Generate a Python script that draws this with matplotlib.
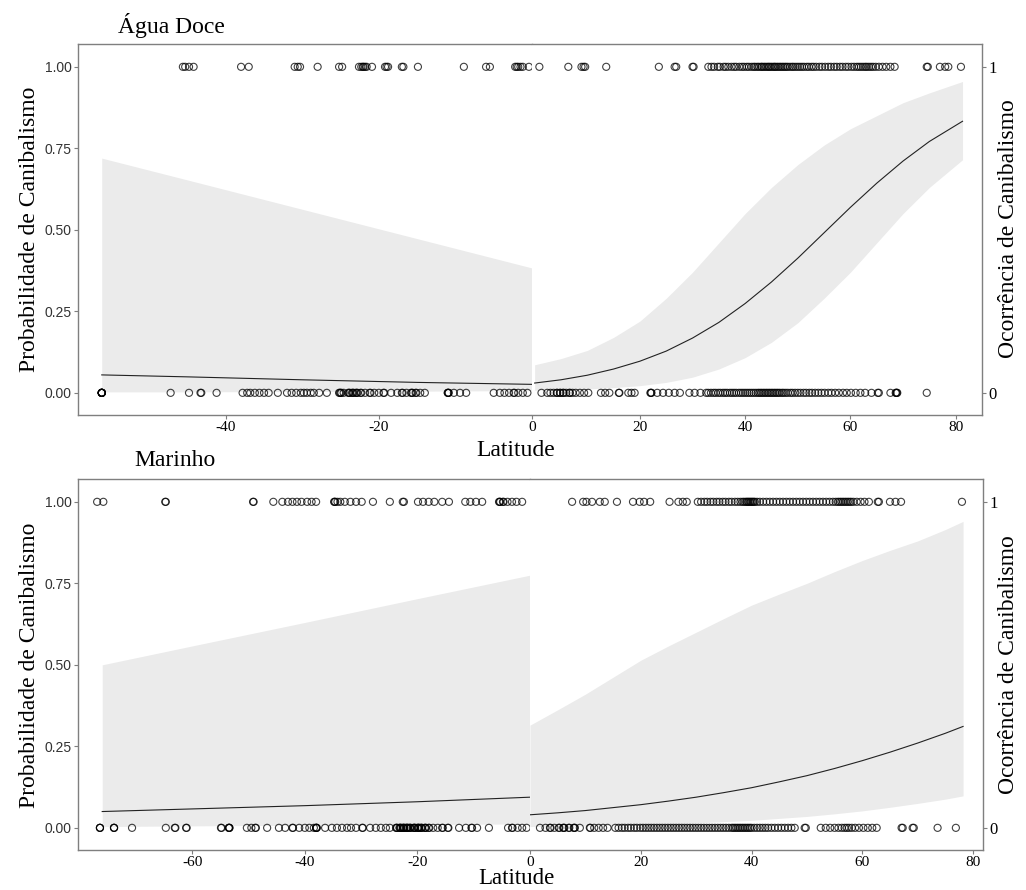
import matplotlib
matplotlib.use("Agg")
import matplotlib.pyplot as plt

# ---------------- data ----------------
# fitted curves (probability) and confidence band, southern / northern fits
fw_s_lat = [-56.2, -45, -30, -15, 0]
fw_s_fit = [0.055, 0.049, 0.040, 0.032, 0.026]
fw_s_lo = [0.003, 0.003, 0.004, 0.005, 0.007]
fw_s_hi = [0.720, 0.653, 0.563, 0.473, 0.383]

fw_n_lat = [0, 5, 10, 15, 20, 25, 30, 35, 40, 45, 50, 55, 60, 65, 70, 75, 81.3]
fw_n_fit = [0.030, 0.040, 0.054, 0.073, 0.097, 0.128, 0.168, 0.216, 0.274,
            0.340, 0.413, 0.491, 0.569, 0.643, 0.711, 0.771, 0.833]
fw_n_lo = [0.008, 0.010, 0.012, 0.016, 0.022, 0.032, 0.048, 0.073, 0.108,
           0.155, 0.215, 0.290, 0.370, 0.460, 0.550, 0.630, 0.715]
fw_n_hi = [0.086, 0.105, 0.130, 0.170, 0.220, 0.290, 0.370, 0.460, 0.550,
           0.630, 0.700, 0.760, 0.810, 0.850, 0.890, 0.920, 0.955]

mar_s_lat = [-76, -60, -40, -20, 0]
mar_s_fit = [0.050, 0.058, 0.068, 0.080, 0.094]
mar_s_lo = [0.004, 0.006, 0.008, 0.010, 0.012]
mar_s_hi = [0.500, 0.558, 0.630, 0.703, 0.775]

mar_n_lat = [0, 5, 10, 15, 20, 25, 30, 35, 40, 45, 50, 55, 60, 65, 70, 75, 78.2]
mar_n_fit = [0.040, 0.046, 0.053, 0.062, 0.071, 0.082, 0.094, 0.108, 0.123,
             0.141, 0.160, 0.182, 0.206, 0.232, 0.260, 0.290, 0.311]
mar_n_lo = [0.004, 0.005, 0.006, 0.008, 0.010, 0.012, 0.015, 0.019, 0.023,
            0.029, 0.035, 0.043, 0.052, 0.063, 0.075, 0.088, 0.098]
mar_n_hi = [0.315, 0.362, 0.410, 0.462, 0.514, 0.558, 0.600, 0.642, 0.683,
            0.717, 0.750, 0.786, 0.820, 0.851, 0.880, 0.915, 0.940]

# observed occurrences (latitude of each record)
fw_occ1 = [-45.6, -45.3, -44.8, -44.2, -38.0, -37.0, -31.0, -30.6, -30.3, -28.0,
           -25.2, -24.8, -22.6, -22.3, -22.1, -22.0, -21.8, -21.6, -20.9, -19.2,
           -19.0, -18.8, -17.0, -16.8, -14.9, -8.9, -6.0, -5.5, -2.2, -2.0, -1.8,
           -1.5, -1.2, -0.4,
           0.9, 6.4, 8.9, 9.3, 9.6, 13.6, 23.6, 26.6, 26.9, 30.0, 30.2,
           33.0, 33.6, 34.1, 34.8, 35.2, 35.9, 36.3, 36.8, 37.4, 37.9, 38.3, 38.9,
           39.4, 39.8, 40.3, 40.7, 41.2, 41.6, 41.9, 42.3, 42.6, 43.0, 43.2, 43.5,
           43.8, 44.1, 44.4, 44.6, 44.9, 45.2, 45.5, 45.7, 46.0, 46.3, 46.6, 46.9,
           47.2, 47.5, 47.8, 48.1, 48.5, 48.9, 49.2, 49.6, 50.0, 50.4, 50.8, 51.2,
           51.7, 52.1, 52.6, 53.0, 53.5, 54.1, 54.6, 55.2, 55.8, 56.3, 56.9, 57.4,
           58.0, 58.5, 59.1, 59.6, 60.2, 60.7, 61.2, 61.6, 62.0, 62.4, 62.8, 63.1,
           63.5, 63.9, 64.3, 64.8, 65.4, 66.1, 66.8, 67.6, 68.4,
           74.5, 74.7, 77.0, 78.0, 78.6, 81.0]
fw_occ0 = [-56.2, -56.2, -56.2, -56.2, -56.2, -56.2, -56.2, -56.2,
           -47.2, -44.8, -43.3, -43.2, -41.2, -37.8, -37.2, -36.8, -36.2, -35.6,
           -35.0, -34.4, -33.2, -32.0, -31.4, -30.8, -30.2, -29.8, -29.4, -28.9,
           -28.5, -27.8, -26.8, -25.2, -25.1, -25.0, -24.9, -24.6, -24.0, -23.9,
           -23.8, -23.5, -23.4, -23.3, -23.0, -22.9, -22.8, -22.4, -22.3, -21.8,
           -21.2, -21.1, -20.6, -20.0, -19.4, -19.3, -18.4, -17.6, -17.0, -16.9,
           -16.4, -15.8, -15.7, -15.6, -15.2, -15.1, -14.6, -14.0, -11.0, -11.0,
           -10.9, -10.9, -10.2, -9.4, -8.6, -5.0, -4.2, -3.6, -3.0, -2.4, -2.3,
           -1.8, -1.2, -0.6,
           1.3, 2.4, 3.0, 3.6, 4.2, 4.3, 4.8, 4.9, 5.4, 5.5, 6.0, 6.6, 6.7, 7.2,
           7.8, 8.6, 9.4, 10.2, 12.6, 13.4, 14.2, 16.0, 16.1, 17.8, 18.4, 19.0,
           22.0, 22.1, 22.2, 23.3, 24.4, 25.5, 26.6, 27.6, 29.4, 30.4, 31.5, 32.6,
           33.0, 33.5, 34.0, 34.4, 34.9, 35.3, 35.8, 36.2, 36.6, 37.1, 37.5, 37.9,
           38.3, 38.8, 39.2, 39.6, 40.0, 40.4, 40.8, 41.2, 41.6, 42.0, 42.4, 42.7,
           43.0, 43.3, 43.6, 43.9, 44.2, 44.5, 44.8, 45.1, 45.4, 45.7, 46.0, 46.3,
           46.6, 47.0, 47.3, 47.7, 48.1, 48.6, 49.0, 49.5, 50.0, 50.5, 51.1, 51.6,
           52.2, 52.7, 53.3, 53.9, 54.5, 55.1, 55.8, 56.4, 57.1, 57.8, 58.6, 59.3,
           60.1, 61.0, 61.9, 62.8, 64.0, 65.2, 65.4, 67.6, 68.6, 68.7, 68.8, 68.9,
           74.5]

mar_occ1 = [-76.9, -75.8, -64.8, -64.7, -49.2, -49.1, -45.6, -44.0, -43.0, -42.2,
            -41.4, -40.6, -39.6, -38.8, -38.0, -34.8, -34.7, -34.6, -34.2, -33.7,
            -32.9, -31.9, -30.9, -29.9, -27.9, -24.9, -22.6, -22.4, -19.9, -19.0,
            -18.0, -17.0, -15.6, -14.4, -11.5, -10.6, -9.6, -8.5, -5.5, -5.4, -5.3,
            -4.8, -4.7, -4.0, -3.2, -2.4, -1.4,
            7.6, 9.6, 10.2, 11.2, 12.6, 13.5, 15.7, 18.6, 19.8, 20.6, 21.7, 25.2,
            26.8, 27.6, 28.3,
            30.3, 30.9, 31.5, 32.0, 32.6, 33.1, 33.7, 34.2, 34.8, 35.3, 35.9, 36.4,
            37.0, 37.5, 38.0, 38.4, 38.7, 39.0, 39.2, 39.4, 39.6, 39.8, 40.0, 40.2,
            40.4, 40.6, 41.0, 41.5, 42.1, 42.7, 43.3, 43.9, 44.5, 45.1, 45.7, 46.3,
            46.9, 47.5, 48.1, 48.7, 49.3, 49.9, 50.5, 51.1, 51.7, 52.3, 52.9, 53.5,
            54.1, 54.7, 55.2, 55.6, 55.9, 56.2, 56.5, 56.8, 57.1, 57.4, 57.7, 58.0,
            58.4, 59.0, 59.7, 60.4, 61.2, 62.8, 63.0,
            65.0, 66.0, 67.0, 78.0]
mar_occ0 = [-76.4, -76.4, -76.4, -73.9, -73.9, -73.9, -70.7, -64.7, -63.1, -63.0,
            -61.1, -61.0, -54.9, -54.8, -53.5, -53.5, -53.4, -53.4, -50.3, -49.5,
            -48.8, -48.7, -46.7, -44.6, -43.5, -42.2, -42.1, -41.0, -40.0, -39.2,
            -38.4, -38.0, -38.0, -37.9, -37.9, -36.4, -35.2, -34.3, -33.4, -32.5,
            -31.8, -30.9, -29.8, -29.7, -28.4, -27.4, -26.5, -25.6, -24.9, -23.8,
            -23.7, -23.6, -23.2, -23.1, -23.0, -22.9, -22.6, -22.5, -22.4, -22.3,
            -22.0, -21.9, -21.8, -21.7, -21.4, -21.3, -21.2, -20.7, -20.6, -20.5,
            -20.4, -20.0, -19.9, -19.8, -19.7, -19.4, -19.3, -19.2, -18.7, -18.6,
            -18.5, -18.0, -17.9, -17.2, -16.4, -15.6, -15.5, -14.6, -14.5, -12.6,
            -11.4, -10.4, -10.3, -9.4, -7.3, -3.9, -3.2, -3.1, -2.2, -1.4, -0.6,
            1.8, 2.8, 3.6, 3.7, 4.4, 5.2, 5.3, 6.0, 6.1, 6.2, 7.0, 7.1, 7.9, 8.0,
            8.1, 9.0, 10.8, 10.9, 11.6, 12.4, 13.2, 14.0,
            15.4, 16.0, 16.6, 17.1, 17.7, 18.2, 18.8, 19.3, 19.9, 20.4, 20.9, 21.4,
            21.9, 22.4, 22.9, 23.4, 23.9, 24.4, 24.9, 25.4, 25.9, 26.4, 26.9, 27.4,
            27.9, 28.4, 28.9, 29.4, 29.9, 30.4, 30.9, 31.4, 31.9, 32.4, 32.9, 33.4,
            33.9, 34.4, 34.9, 35.4, 35.9, 36.4, 36.7, 37.0, 37.3, 37.6, 37.9, 38.2,
            38.5, 38.8, 39.1, 39.4, 39.7, 40.0, 40.5, 41.0, 41.5, 42.0, 42.5, 43.0,
            43.6, 44.2, 44.8, 45.4, 46.0, 46.6, 47.2, 47.8, 49.6, 49.8, 52.5, 53.4,
            54.2, 55.0, 55.7, 56.3, 56.8, 57.2, 57.6, 58.1, 58.7, 59.4, 60.2, 61.0,
            61.8, 62.6, 67.1, 67.3, 69.1, 69.3, 73.6, 76.9]

prob_ticks = [0, 0.25, 0.5, 0.75, 1]
prob_labels = ["0.00", "0.25", "0.50", "0.75", "1.00"]

SERIF = ["Liberation Serif", "DejaVu Serif"]
SANS = ["Liberation Sans", "DejaVu Sans"]
W, H = 1026, 890
YLIM = (-0.068, 1.07)
BAND = "#ebebeb"
FRAME = "#7f7f7f"


def px_axes(fig, x0, x1, y0, y1):
    return fig.add_axes([x0 / W, 1 - y1 / H, (x1 - x0) / W, (y1 - y0) / H])


def draw_half(ax, lat, fit, lo, hi, occ1, occ0, xlim, xticks):
    ax.fill_between(lat, lo, hi, color=BAND, lw=0, zorder=1)
    ax.plot(lat, fit, color="#222222", lw=0.8, zorder=2)
    ys = [1] * len(occ1) + [0] * len(occ0)
    ax.scatter(occ1 + occ0, ys, s=26, facecolors="none", edgecolors="black",
               linewidths=0.8, alpha=0.75, zorder=3, clip_on=False)
    ax.set_xlim(*xlim)
    ax.set_ylim(*YLIM)
    ax.set_xticks(xticks)
    ax.set_xticklabels([str(t) for t in xticks])
    for lbl in ax.get_xticklabels():
        lbl.set_fontfamily(SERIF)
        lbl.set_fontsize(11)
    for s in ax.spines.values():
        s.set_color(FRAME)
        s.set_linewidth(1.0)
    ax.tick_params(axis="both", length=3, color=FRAME, pad=1.5)


def draw_row(fig, ytop, ybot, xsplit, xright, south, north, xl_s, xl_n, ticks_s, ticks_n):
    axl = px_axes(fig, 78, xsplit, ytop, ybot)
    axr = px_axes(fig, xsplit, xright, ytop, ybot)
    draw_half(axl, *south, xl_s, ticks_s)
    draw_half(axr, *north, xl_n, ticks_n)
    axl.spines["right"].set_visible(False)
    axr.spines["left"].set_visible(False)
    axl.set_yticks(prob_ticks)
    axl.set_yticklabels(prob_labels)
    for lbl in axl.get_yticklabels():
        lbl.set_fontfamily(SANS)
        lbl.set_fontsize(10)
        lbl.set_color("#333333")
    axr.yaxis.tick_right()
    axr.set_yticks([0, 1])
    axr.set_yticklabels(["0", "1"])
    for lbl in axr.get_yticklabels():
        lbl.set_fontfamily(SERIF)
        lbl.set_fontsize(12)
    return axl, axr


fig = plt.figure(figsize=(W / 100, H / 100), dpi=100)

draw_row(fig, 44, 415, 532, 982,
         (fw_s_lat, fw_s_fit, fw_s_lo, fw_s_hi, [v for v in fw_occ1 if v <= 0], [v for v in fw_occ0 if v <= 0]),
         (fw_n_lat, fw_n_fit, fw_n_lo, fw_n_hi, [v for v in fw_occ1 if v > 0], [v for v in fw_occ0 if v > 0]),
         (-59.3, 0), (-0.5, 85.0), [-40, -20, 0], [20, 40, 60, 80])

draw_row(fig, 479, 850, 530, 983,
         (mar_s_lat, mar_s_fit, mar_s_lo, mar_s_hi, [v for v in mar_occ1 if v <= 0], [v for v in mar_occ0 if v <= 0]),
         (mar_n_lat, mar_n_fit, mar_n_lo, mar_n_hi, [v for v in mar_occ1 if v > 0], [v for v in mar_occ0 if v > 0]),
         (-80.3, 0), (0, 81.8), [-60, -40, -20, 0], [20, 40, 60, 80])

# titles and axis labels
fig.text(118 / W, 1 - 25 / H, "Água Doce", fontfamily=SERIF, fontsize=17, va="center", ha="left")
fig.text(134 / W, 1 - 461 / H, "Marinho", fontfamily=SERIF, fontsize=17, va="center", ha="left")
for yc in [229, 665]:
    fig.text(30 / W, 1 - yc / H, "Probabilidade de Canibalismo", fontfamily=SERIF,
             fontsize=17, rotation=90, va="center", ha="center")
    fig.text(1008 / W, 1 - yc / H, "Ocorrência de Canibalismo", fontfamily=SERIF,
             fontsize=17, rotation=90, va="center", ha="center")
fig.text(516 / W, 1 - 450 / H, "Latitude", fontfamily=SERIF, fontsize=17,
         va="center", ha="center")
fig.text(516 / W, 1 - 889 / H, "Latitude", fontfamily=SERIF, fontsize=16.5,
         va="bottom", ha="center")

fig.savefig("out.png", dpi=100)
